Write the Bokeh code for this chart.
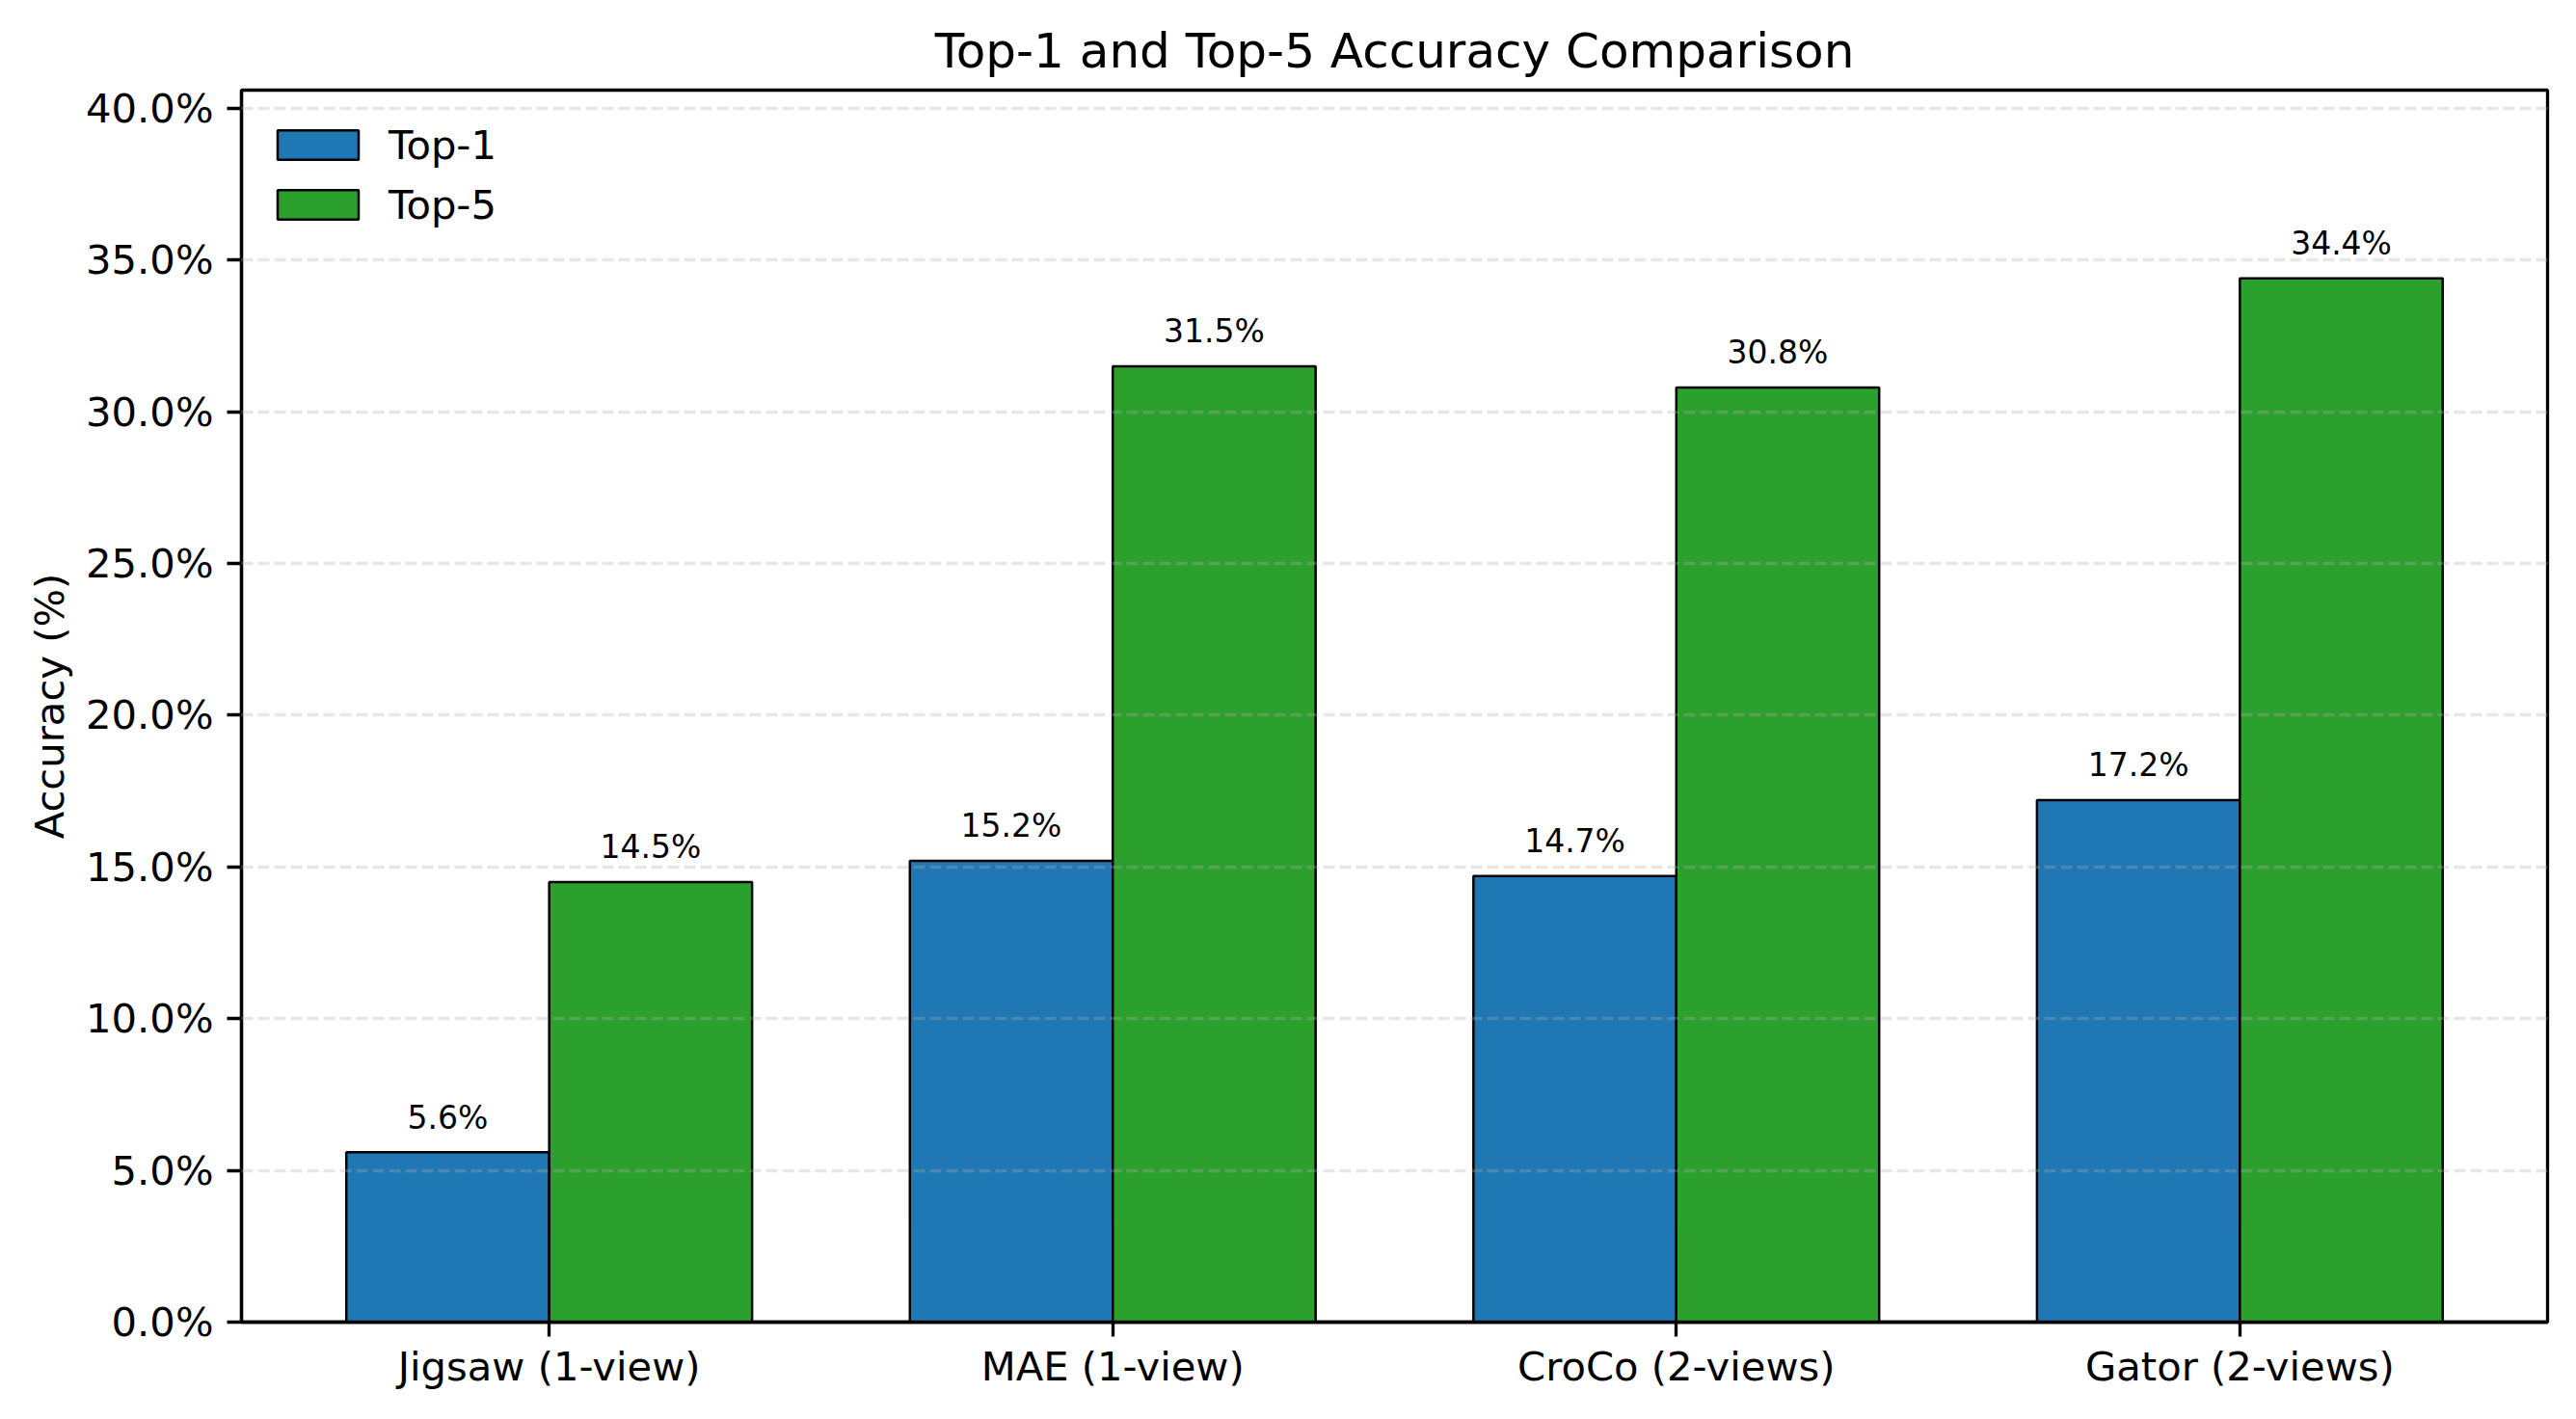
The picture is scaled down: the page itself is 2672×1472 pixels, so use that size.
from bokeh.plotting import figure
from bokeh.models import Range1d, FixedTicker, PrintfTickFormatter, ColumnDataSource, Legend, LegendItem
from bokeh.core.properties import value
from bokeh.embed import file_html
from bokeh.resources import INLINE

categories = ["Jigsaw (1-view)", "MAE (1-view)", "CroCo (2-views)", "Gator (2-views)"]
top1 = [5.6, 15.2, 14.7, 17.2]
top5 = [14.5, 31.5, 30.8, 34.4]
y_ticks = [0, 5, 10, 15, 20, 25, 30, 35, 40]

FONT = "DejaVu Sans"
BLUE = "#1f77b4"
GREEN = "#2ca02c"
bar_w = 0.36
label_gap = 1.15

xs = list(range(len(categories)))
x1 = [x - bar_w / 2 for x in xs]
x5 = [x + bar_w / 2 for x in xs]

p = figure(width=2656, height=1456, output_backend="svg", toolbar_location=None,
           x_range=Range1d(-0.546, 3.546), y_range=Range1d(0, 40.6),
           min_border_left=250, min_border_right=14, min_border_top=93, min_border_bottom=85)

src1 = ColumnDataSource(dict(x=x1, top=top1, ly=[v + label_gap for v in top1],
                             lab=[f"{v:.1f}%" for v in top1]))
src5 = ColumnDataSource(dict(x=x5, top=top5, ly=[v + label_gap for v in top5],
                             lab=[f"{v:.1f}%" for v in top5]))

r1 = p.vbar(x="x", top="top", bottom=0, width=bar_w, source=src1,
            fill_color=BLUE, line_color="black", line_width=2.5)
r5 = p.vbar(x="x", top="top", bottom=0, width=bar_w, source=src5,
            fill_color=GREEN, line_color="black", line_width=2.5)

for s in (src1, src5):
    p.text(x="x", y="ly", text="lab", source=s, text_align="center",
           text_baseline="alphabetic",
           text_font=value(FONT), text_font_size="33px", text_color="black")

# title
p.title.text = "Top-1 and Top-5 Accuracy Comparison"
p.title.align = "center"
p.title.text_font = FONT
p.title.text_font_size = "50px"
p.title.text_font_style = "normal"
p.title.text_color = "black"
p.title.standoff = 24

# axes
for ax in (p.xaxis[0], p.yaxis[0]):
    ax.axis_line_width = 3.3
    ax.axis_line_color = "black"
    ax.major_tick_line_width = 3.3
    ax.major_tick_line_color = "black"
    ax.major_tick_out = 15
    ax.major_tick_in = 0
    ax.minor_tick_line_color = None
    ax.major_label_text_font = FONT
    ax.major_label_text_font_size = "41.7px"
    ax.major_label_text_color = "black"

p.xaxis.ticker = FixedTicker(ticks=xs)
p.xaxis.major_label_overrides = {i: c for i, c in zip(xs, categories)}
p.xaxis.major_label_standoff = 6

p.yaxis.ticker = FixedTicker(ticks=y_ticks)
p.yaxis.formatter = PrintfTickFormatter(format="%.1f%%")
p.yaxis.major_label_standoff = 14
p.yaxis.axis_label = "Accuracy (%)"
p.yaxis.axis_label_text_font = FONT
p.yaxis.axis_label_text_font_size = "41.7px"
p.yaxis.axis_label_text_font_style = "normal"
p.yaxis.axis_label_text_color = "black"
p.yaxis.axis_label_standoff = 10

p.outline_line_color = "black"
p.outline_line_width = 3.3
p.outline_line_alpha = 1.0

p.xgrid.grid_line_color = None
p.ygrid.grid_line_color = "#b0b0b0"
p.ygrid.grid_line_alpha = 0.3
p.ygrid.grid_line_width = 3.3
p.ygrid.grid_line_dash = "12 5"
p.ygrid.level = "overlay"

legend = Legend(items=[LegendItem(label="Top-1", renderers=[r1]),
                       LegendItem(label="Top-5", renderers=[r5])],
                location="top_left")
legend.label_text_font = FONT
legend.label_text_font_size = "41.7px"
legend.label_text_color = "black"
legend.glyph_width = 105
legend.glyph_height = 38
legend.label_height = 60
legend.label_standoff = 21
legend.spacing = 2
legend.padding = 0
legend.margin = 27
legend.border_line_color = None
legend.background_fill_alpha = 0
p.add_layout(legend)

p.background_fill_color = "white"
p.border_fill_color = "white"

open("out.html", "w").write(file_html(p, INLINE))
